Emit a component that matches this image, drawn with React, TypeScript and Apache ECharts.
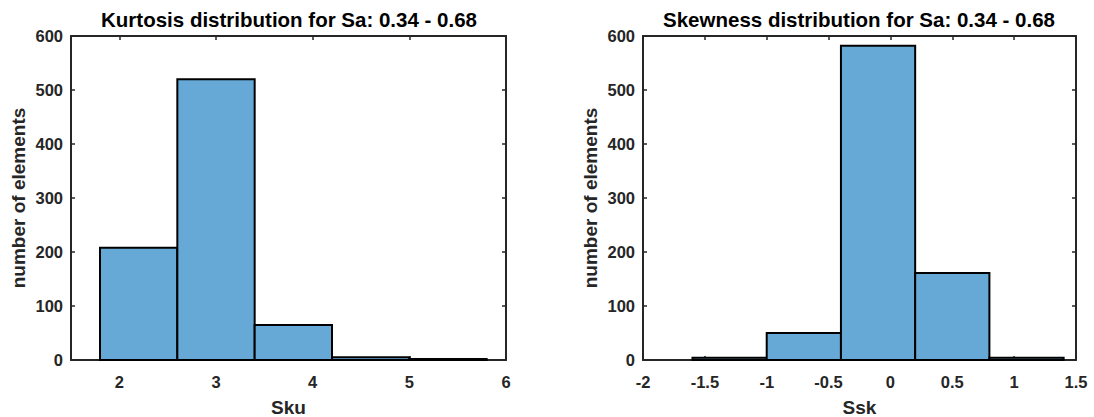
import React, { useEffect, useRef } from "react";
import * as echarts from "echarts";

// Kurtosis histogram (bin edges and counts)
const skuEdges = [1.8, 2.6, 3.4, 4.2, 5.0, 5.8];
const skuCounts = [208, 520, 65, 5, 2];
const skuTicks = [2, 3, 4, 5, 6];

// Skewness histogram (bin edges and counts)
const sskEdges = [-1.6, -1.0, -0.4, 0.2, 0.8, 1.4];
const sskCounts = [4, 50, 582, 161, 4];

const yTicks = [0, 100, 200, 300, 400, 500, 600];

const titles = [
  "Kurtosis distribution for Sa: 0.34 - 0.68",
  "Skewness distribution for Sa: 0.34 - 0.68",
];

const INK = "#262626";
const BAR_FILL = "#66a9d7";
const FONT = "'Liberation Sans', Arial, Helvetica, sans-serif";

function binRows(edges: number[], counts: number[]) {
  return counts.map((c, i) => [edges[i], edges[i + 1], c]);
}

export default function App() {
  const ref = useRef<HTMLDivElement>(null);

  useEffect(() => {
    if (!ref.current) return;
    const chart = echarts.init(ref.current, undefined, { renderer: "svg" });

    // fixed plot boxes; labels are allowed to sit outside them
    const grids = [
      { left: 71, right: 588, top: 36, bottom: 57, outerBoundsMode: "none", containLabel: false },
      { left: 643, right: 18, top: 36, bottom: 57, outerBoundsMode: "none", containLabel: false },
    ];
    const titleCenters = [289, 859];

    const lineStyle = { color: INK, width: 2 };
    const tickStyle = { show: true, inside: true, length: 4, lineStyle: { color: INK, width: 1.5 } };
    const labelStyle = {
      color: INK,
      fontFamily: FONT,
      fontWeight: "bold" as const,
      fontSize: 16.5,
    };
    const nameStyle = {
      color: INK,
      fontFamily: FONT,
      fontWeight: "bold" as const,
      fontSize: 19,
    };

    const xRanges = [
      { min: 1.5, max: 6, custom: skuTicks, name: "Sku" },
      { min: -2, max: 1.5, interval: 0.5, name: "Ssk" },
    ];

    const xAxis: any[] = [];
    const yAxis: any[] = [];
    xRanges.forEach((r, g) => {
      const base: any = { type: "value", gridIndex: g, min: r.min, max: r.max, splitLine: { show: false } };
      if (r.interval) base.interval = r.interval;
      const tick: any = { ...tickStyle };
      const lbl: any = { ...labelStyle, margin: 13 };
      if (r.custom) {
        tick.customValues = r.custom;
        lbl.customValues = r.custom;
      }
      xAxis.push({
        ...base,
        position: "bottom",
        axisLine: { show: true, onZero: false, lineStyle },
        axisTick: tick,
        axisLabel: lbl,
        name: r.name,
        nameLocation: "middle",
        nameGap: 38,
        nameTextStyle: nameStyle,
      });
      xAxis.push({
        ...base,
        position: "top",
        axisLine: { show: true, onZero: false, lineStyle },
        axisTick: { ...tick },
        axisLabel: { show: false },
      });
      const yBase: any = {
        type: "value",
        gridIndex: g,
        min: yTicks[0],
        max: yTicks[yTicks.length - 1],
        interval: yTicks[1] - yTicks[0],
        splitLine: { show: false },
      };
      yAxis.push({
        ...yBase,
        position: "left",
        axisLine: { show: true, onZero: false, lineStyle },
        axisTick: tickStyle,
        axisLabel: { ...labelStyle, margin: 8 },
        name: "number of elements",
        nameLocation: "middle",
        nameGap: 43,
        nameTextStyle: nameStyle,
      });
      yAxis.push({
        ...yBase,
        position: "right",
        axisLine: { show: true, onZero: false, lineStyle },
        axisTick: tickStyle,
        axisLabel: { show: false },
      });
    });

    const histSeries = (rows: number[][], g: number) => ({
      type: "custom",
      xAxisIndex: g * 2,
      yAxisIndex: g * 2,
      data: rows,
      encode: { x: [0, 1], y: 2 },
      renderItem: (_p: any, api: any) => {
        const x0 = api.value(0);
        const x1 = api.value(1);
        const v = api.value(2);
        const a = api.coord([x0, 0]);
        const b = api.coord([x1, v]);
        return {
          type: "rect",
          shape: { x: a[0], y: b[1], width: b[0] - a[0], height: a[1] - b[1] },
          style: { fill: BAR_FILL, stroke: "#000", lineWidth: 2 },
        };
      },
      z: 1,
    });

    chart.setOption({
      animation: false,
      backgroundColor: "#ffffff",
      title: titles.map((t, i) => ({
        text: t,
        left: titleCenters[i],
        top: 9,
        textAlign: "center",
        padding: 0,
        textStyle: { color: "#000", fontFamily: FONT, fontWeight: "bold", fontSize: 20.5 },
      })),
      grid: grids,
      xAxis,
      yAxis,
      series: [histSeries(binRows(skuEdges, skuCounts), 0), histSeries(binRows(sskEdges, sskCounts), 1)],
    });

    return () => chart.dispose();
  }, []);

  return (
    <div
      ref={ref}
      style={{ position: "fixed", left: 0, top: 0, width: 1094, height: 417, background: "#fff" }}
    />
  );
}
